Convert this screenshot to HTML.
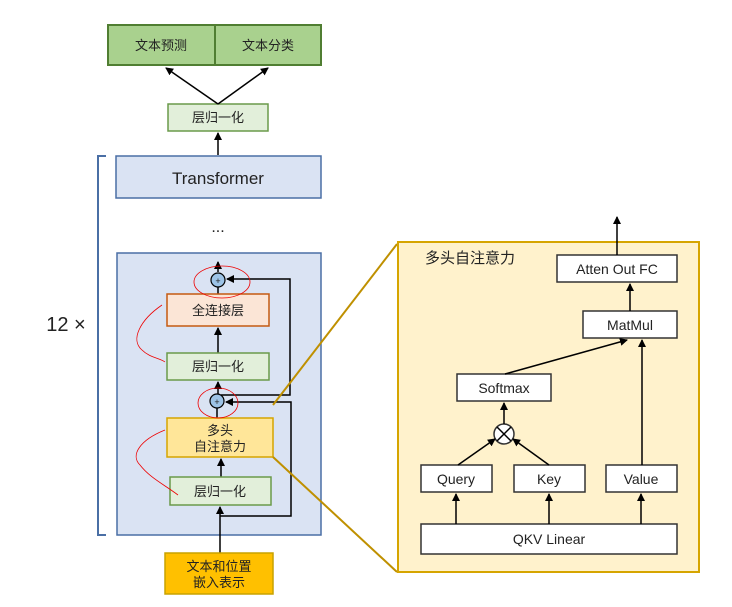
<html><head><style>body{margin:0;background:#fff;}svg text{font-family:"Liberation Sans","Noto Sans CJK SC",sans-serif;fill:#222;}</style></head><body>
<svg width="732" height="607" viewBox="0 0 732 607" xmlns="http://www.w3.org/2000/svg">
<defs><marker id="a" markerWidth="8" markerHeight="8" refX="7" refY="4" orient="auto" markerUnits="userSpaceOnUse"><path d="M0,0L8,4L0,8z" fill="#000"/></marker></defs>
<g font-size="13" text-anchor="middle">
<rect x="108" y="25" width="107" height="40" fill="#a9d18e" stroke="#507e32" stroke-width="2"/>
<rect x="215" y="25" width="106" height="40" fill="#a9d18e" stroke="#507e32" stroke-width="2"/>
<text x="161" y="50">文本预测</text><text x="268" y="50">文本分类</text>
<rect x="168" y="104" width="100" height="27" fill="#e2efda" stroke="#6a9a4a" stroke-width="1.5"/>
<text x="218" y="122">层归一化</text>
<line x1="218" y1="104" x2="166" y2="68" stroke="#000" stroke-width="1.5" marker-end="url(#a)"/>
<line x1="218" y1="104" x2="268" y2="68" stroke="#000" stroke-width="1.5" marker-end="url(#a)"/>
<line x1="218" y1="155" x2="218" y2="133" stroke="#000" stroke-width="1.5" marker-end="url(#a)"/>
<rect x="116" y="156" width="205" height="42" fill="#dae3f3" stroke="#4a6fa5" stroke-width="1.5"/>
<text x="218" y="184" font-size="17">Transformer</text>
<text x="218" y="232" font-size="16">...</text>
<path d="M106,156 H98 V535 H106" fill="none" stroke="#4a6fa5" stroke-width="2"/>
<text x="66" y="331" font-size="20">12 ×</text>
<rect x="117" y="253" width="204" height="282" fill="#dae3f3" stroke="#4a6fa5" stroke-width="1.5"/>
<line x1="218" y1="272" x2="218" y2="262" stroke="#000" stroke-width="1.5" marker-end="url(#a)"/>
<circle cx="218" cy="280" r="7" fill="#9dc3e6" stroke="#000" stroke-width="1.2"/><text x="218" y="284" font-size="9">+</text>
<line x1="218" y1="294" x2="218" y2="287" stroke="#000" stroke-width="1.5"/>
<rect x="167" y="294" width="102" height="32" fill="#fbe5d6" stroke="#c55a11" stroke-width="1.5"/>
<text x="218" y="315">全连接层</text>
<line x1="218" y1="353" x2="218" y2="328" stroke="#000" stroke-width="1.5" marker-end="url(#a)"/>
<rect x="167" y="353" width="102" height="27" fill="#e2efda" stroke="#6a9a4a" stroke-width="1.5"/>
<text x="218" y="371">层归一化</text>
<line x1="218" y1="394" x2="218" y2="382" stroke="#000" stroke-width="1.5" marker-end="url(#a)"/>
<circle cx="217" cy="401" r="7" fill="#9dc3e6" stroke="#000" stroke-width="1.2"/><text x="217" y="405" font-size="9">+</text>
<line x1="217" y1="418" x2="217" y2="408" stroke="#000" stroke-width="1.5"/>
<rect x="167" y="418" width="106" height="39" fill="#ffe699" stroke="#d6a500" stroke-width="1.5"/>
<text x="220" y="435">多头</text><text x="220" y="451">自注意力</text>
<line x1="221" y1="477" x2="221" y2="459" stroke="#000" stroke-width="1.5" marker-end="url(#a)"/>
<rect x="170" y="477" width="101" height="28" fill="#e2efda" stroke="#6a9a4a" stroke-width="1.5"/>
<text x="220" y="496">层归一化</text>
<line x1="220" y1="553" x2="220" y2="507" stroke="#000" stroke-width="1.5" marker-end="url(#a)"/>
<path d="M220,516 H291 V402 H226" fill="none" stroke="#000" stroke-width="1.5" marker-end="url(#a)"/>
<path d="M221,395 H290 V279 H227" fill="none" stroke="#000" stroke-width="1.5" marker-end="url(#a)"/>
<rect x="165" y="553" width="108" height="41" fill="#ffc000" stroke="#c9a200" stroke-width="1.5"/>
<text x="219" y="571">文本和位置</text><text x="219" y="587">嵌入表示</text>
<g fill="none" stroke="#e00" stroke-width="0.8">
<ellipse cx="222" cy="282" rx="28" ry="16"/><ellipse cx="218" cy="403" rx="20" ry="15"/>
<path d="M162,305 C140,320 130,340 142,350 C150,358 160,358 165,362"/>
<path d="M165,430 C140,440 130,455 140,465 C150,478 165,485 178,495"/>
</g>
<line x1="273" y1="405" x2="397" y2="244" stroke="#bf9000" stroke-width="2"/>
<line x1="273" y1="457" x2="397" y2="572" stroke="#bf9000" stroke-width="2"/>
<rect x="398" y="242" width="301" height="330" fill="#fff2cc" stroke="#d6a500" stroke-width="2"/>
<text x="470" y="263" font-size="15">多头自注意力</text>
<g fill="#fff" stroke="#333" stroke-width="1.5">
<rect x="557" y="255" width="120" height="27"/><rect x="583" y="311" width="94" height="27"/>
<rect x="457" y="374" width="94" height="27"/><rect x="421" y="465" width="71" height="27"/>
<rect x="514" y="465" width="71" height="27"/><rect x="606" y="465" width="71" height="27"/>
<rect x="421" y="524" width="256" height="30"/>
<circle cx="504" cy="434" r="10"/>
</g>
<path d="M497,427 L511,441 M511,427 L497,441" stroke="#000" stroke-width="1.5"/>
<g font-size="14">
<text x="617" y="274">Atten Out FC</text><text x="630" y="330">MatMul</text>
<text x="504" y="393">Softmax</text><text x="456" y="484">Query</text>
<text x="549" y="484">Key</text><text x="641" y="484">Value</text>
<text x="549" y="544">QKV Linear</text>
</g>
<g stroke="#000" stroke-width="1.5" marker-end="url(#a)">
<line x1="617" y1="255" x2="617" y2="217"/><line x1="630" y1="311" x2="630" y2="284"/>
<line x1="505" y1="374" x2="627" y2="340"/><line x1="642" y1="465" x2="642" y2="340"/>
<line x1="504" y1="424" x2="504" y2="403"/><line x1="458" y1="465" x2="495" y2="439"/>
<line x1="549" y1="465" x2="513" y2="439"/>
<line x1="456" y1="524" x2="456" y2="494"/><line x1="549" y1="524" x2="549" y2="494"/><line x1="641" y1="524" x2="641" y2="494"/>
</g>
</g>
</svg></body></html>
